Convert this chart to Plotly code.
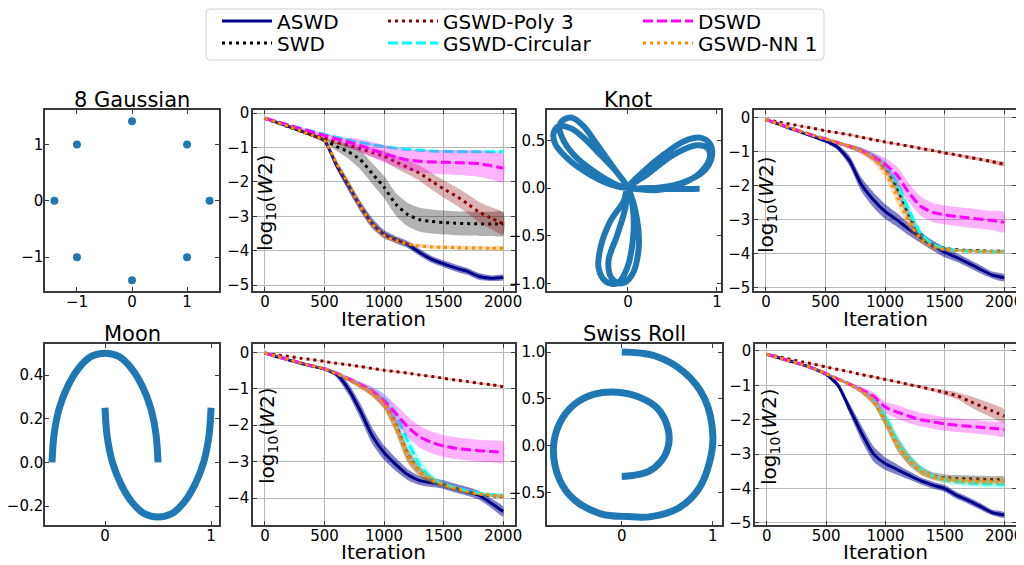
import plotly.graph_objects as go

# the page body has an 8px default margin; the figure is sized to fit the window
PAGE_W, PAGE_H = 1024, 565
OFF = 8
W, H = PAGE_W - OFF, PAGE_H - OFF
FONT = "DejaVu Sans"
BLUE = "#1f77b4"
SPINE = "#3a3a3a"
GRID = "#b8b8b8"

# ---------------- data ----------------
ITER = [0, 100, 200, 300, 400, 500, 600, 700, 800, 900, 1000,
        1100, 1200, 1300, 1400, 1500, 1600, 1700, 1800, 1900, 2000]

METHODS = ["ASWD", "SWD", "GSWD-Poly 3", "GSWD-Circular", "DSWD", "GSWD-NN 1"]

# 8 Gaussian samples
G8_X = [0.0, 1.0, 1.41, 1.0, 0.0, -1.0, -1.41, -1.0]
G8_Y = [1.41, 1.0, 0.0, -1.0, -1.41, -1.0, 0.0, 1.0]

# Knot curve (read along the drawn path)
KNOT_X = [0.805, 0.5, 0.25, 0.0,
          -0.16, -0.39, -0.61, -0.74, -0.77, -0.72, -0.63, -0.5, -0.35, -0.16, 0.0,
          0.1, 0.12, 0.045, -0.07, -0.18, -0.22, -0.12, -0.03, 0.0,
          0.176, 0.4, 0.625, 0.81, 0.925, 0.94, 0.85, 0.59, 0.29, 0.0,
          -0.2, -0.46, -0.69, -0.82, -0.835, -0.78, -0.65, -0.5, -0.31, -0.12, 0.0,
          0.055, 0.06, -0.01, -0.12, -0.25, -0.33, -0.31, -0.2, -0.05, 0.0,
          0.21, 0.51, 0.775, 0.895, 0.92, 0.81, 0.59, 0.33, 0.0]
KNOT_Y = [-0.007, -0.01, 0.0, 0.0,
          0.05, 0.18, 0.35, 0.53, 0.65, 0.72, 0.74, 0.65, 0.46, 0.21, 0.0,
          -0.32, -0.63, -0.91, -1.0, -0.95, -0.77, -0.49, -0.21, 0.0,
          0.175, 0.35, 0.49, 0.53, 0.46, 0.32, 0.175, 0.05, 0.0, 0.0,
          0.04, 0.16, 0.32, 0.47, 0.58, 0.65, 0.63, 0.53, 0.35, 0.16, 0.0,
          -0.21, -0.49, -0.84, -1.0, -0.98, -0.84, -0.63, -0.35, -0.14, 0.0,
          0.14, 0.35, 0.45, 0.42, 0.32, 0.16, 0.04, -0.02, 0.0]

# Moon curves
MOON_UP_X = [-0.5, -0.48, -0.43, -0.35, -0.25, -0.13, 0.0, 0.13, 0.25, 0.35, 0.43, 0.48, 0.5]
MOON_UP_Y = [0.0, 0.13, 0.25, 0.35, 0.43, 0.485, 0.5, 0.485, 0.43, 0.35, 0.25, 0.13, 0.0]
MOON_LO_X = [0.0, 0.02, 0.07, 0.15, 0.25, 0.37, 0.5, 0.63, 0.75, 0.85, 0.93, 0.98, 1.0]
MOON_LO_Y = [0.25, 0.12, 0.0, -0.1, -0.18, -0.235, -0.25, -0.235, -0.18, -0.1, 0.0, 0.12, 0.25]

# Swiss roll curve
SWISS_X = [0.0, 0.36, 0.69, 0.91, 1.0, 0.96, 0.84, 0.62, 0.32, 0.07, -0.23, -0.52, -0.68,
           -0.75, -0.68, -0.52, -0.3, -0.04, 0.21, 0.4, 0.51, 0.51, 0.43, 0.29, 0.12, 0.0]
SWISS_Y = [1.0, 0.96, 0.78, 0.5, 0.1, -0.19, -0.47, -0.67, -0.76, -0.76, -0.73, -0.58, -0.37,
           -0.04, 0.24, 0.44, 0.55, 0.57, 0.51, 0.39, 0.17, -0.01, -0.17, -0.28, -0.32, -0.33]

# ---- 8 Gaussian: log10(W2) mean and band half-width ----
G8_ASWD = [-0.15, -0.27, -0.39, -0.52, -0.65, -0.8, -1.5, -2.1, -2.7, -3.2, -3.52, -3.68, -3.82, -4.05, -4.25, -4.38, -4.5, -4.6, -4.75, -4.8, -4.78]
G8_ASWD_B = [0, 0.02, 0.03, 0.04, 0.05, 0.06, 0.12, 0.15, 0.15, 0.15, 0.12, 0.1, 0.1, 0.1, 0.1, 0.1, 0.1, 0.1, 0.1, 0.08, 0.08]
G8_SWD = [-0.15, -0.28, -0.4, -0.52, -0.65, -0.78, -0.97, -1.12, -1.35, -1.75, -2.15, -2.65, -2.95, -3.1, -3.15, -3.18, -3.2, -3.21, -3.22, -3.22, -3.22]
G8_SWD_B = [0, 0.01, 0.02, 0.03, 0.04, 0.05, 0.12, 0.2, 0.28, 0.3, 0.32, 0.33, 0.34, 0.35, 0.35, 0.35, 0.35, 0.35, 0.35, 0.35, 0.35]
G8_POLY = [-0.15, -0.25, -0.36, -0.48, -0.6, -0.72, -0.85, -0.93, -1.03, -1.15, -1.25, -1.42, -1.58, -1.75, -1.98, -2.2, -2.4, -2.63, -2.88, -3.05, -3.22]
G8_POLY_B = [0, 0.01, 0.02, 0.02, 0.03, 0.04, 0.05, 0.07, 0.1, 0.12, 0.15, 0.18, 0.2, 0.22, 0.24, 0.25, 0.26, 0.28, 0.3, 0.32, 0.33]
G8_CIRC = [-0.15, -0.25, -0.35, -0.44, -0.53, -0.62, -0.7, -0.78, -0.85, -0.92, -0.97, -1.02, -1.05, -1.08, -1.1, -1.11, -1.12, -1.12, -1.12, -1.12, -1.12]
G8_CIRC_B = [0, 0.01, 0.01, 0.02, 0.02, 0.02, 0.02, 0.03, 0.03, 0.03, 0.03, 0.03, 0.03, 0.03, 0.03, 0.03, 0.03, 0.03, 0.03, 0.03, 0.03]
G8_DSWD = [-0.15, -0.25, -0.35, -0.45, -0.55, -0.65, -0.75, -0.84, -0.94, -1.06, -1.18, -1.28, -1.36, -1.4, -1.42, -1.43, -1.44, -1.45, -1.47, -1.53, -1.6]
G8_DSWD_B = [0, 0.01, 0.02, 0.03, 0.04, 0.05, 0.08, 0.12, 0.18, 0.22, 0.25, 0.28, 0.3, 0.32, 0.34, 0.35, 0.36, 0.37, 0.38, 0.4, 0.42]
G8_NN = [-0.15, -0.27, -0.39, -0.52, -0.65, -0.8, -1.45, -2.05, -2.7, -3.22, -3.55, -3.7, -3.8, -3.86, -3.89, -3.9, -3.91, -3.92, -3.92, -3.93, -3.93]
G8_NN_B = [0, 0.01, 0.02, 0.03, 0.04, 0.05, 0.1, 0.12, 0.12, 0.1, 0.08, 0.07, 0.06, 0.06, 0.06, 0.06, 0.06, 0.06, 0.06, 0.06, 0.06]

# ---- Knot ----
KN_ASWD = [-0.05, -0.18, -0.31, -0.43, -0.55, -0.68, -0.86, -1.25, -1.95, -2.4, -2.75, -3.0, -3.27, -3.52, -3.75, -3.95, -4.1, -4.27, -4.45, -4.62, -4.7]
KN_ASWD_B = [0, 0.01, 0.02, 0.03, 0.04, 0.05, 0.08, 0.15, 0.2, 0.22, 0.22, 0.2, 0.18, 0.16, 0.15, 0.15, 0.13, 0.12, 0.12, 0.1, 0.1]
KN_SWD = [-0.05, -0.17, -0.29, -0.41, -0.52, -0.62, -0.73, -0.84, -0.96, -1.15, -1.45, -2.05, -2.85, -3.45, -3.74, -3.84, -3.88, -3.9, -3.91, -3.92, -3.92]
KN_SWD_B = [0, 0.01, 0.02, 0.02, 0.03, 0.04, 0.05, 0.06, 0.08, 0.1, 0.14, 0.18, 0.18, 0.12, 0.08, 0.05, 0.04, 0.04, 0.04, 0.04, 0.04]
KN_POLY = [-0.05, -0.12, -0.18, -0.25, -0.31, -0.38, -0.44, -0.5, -0.57, -0.64, -0.71, -0.77, -0.83, -0.9, -0.96, -1.03, -1.09, -1.16, -1.22, -1.29, -1.36]
KN_POLY_B = [0, 0.01, 0.01, 0.02, 0.02, 0.02, 0.02, 0.03, 0.03, 0.03, 0.03, 0.03, 0.03, 0.04, 0.04, 0.04, 0.04, 0.05, 0.05, 0.06, 0.06]
KN_CIRC = [-0.05, -0.17, -0.29, -0.41, -0.52, -0.62, -0.73, -0.84, -0.95, -1.12, -1.38, -1.9, -2.7, -3.4, -3.72, -3.85, -3.9, -3.92, -3.93, -3.94, -3.95]
KN_CIRC_B = [0, 0.01, 0.02, 0.02, 0.03, 0.04, 0.05, 0.06, 0.08, 0.1, 0.14, 0.18, 0.18, 0.12, 0.08, 0.05, 0.04, 0.04, 0.04, 0.04, 0.04]
KN_DSWD = [-0.05, -0.17, -0.29, -0.41, -0.52, -0.62, -0.73, -0.84, -0.96, -1.14, -1.36, -1.68, -2.2, -2.6, -2.78, -2.85, -2.9, -2.94, -2.98, -3.02, -3.07]
KN_DSWD_B = [0, 0.01, 0.02, 0.02, 0.03, 0.04, 0.05, 0.06, 0.08, 0.12, 0.18, 0.25, 0.28, 0.28, 0.28, 0.28, 0.28, 0.28, 0.28, 0.28, 0.3]
KN_NN = [-0.05, -0.17, -0.29, -0.41, -0.52, -0.62, -0.73, -0.84, -0.98, -1.2, -1.58, -2.3, -3.05, -3.55, -3.78, -3.87, -3.9, -3.92, -3.93, -3.94, -3.95]
KN_NN_B = [0, 0.01, 0.02, 0.02, 0.03, 0.04, 0.05, 0.06, 0.08, 0.12, 0.18, 0.22, 0.2, 0.12, 0.08, 0.05, 0.04, 0.04, 0.04, 0.04, 0.04]

# ---- Moon ----
MN_ASWD = [-0.02, -0.12, -0.21, -0.3, -0.38, -0.46, -0.6, -1.0, -1.6, -2.28, -2.75, -3.08, -3.36, -3.52, -3.58, -3.63, -3.73, -3.82, -3.93, -4.14, -4.37]
MN_ASWD_B = [0, 0.01, 0.02, 0.03, 0.03, 0.04, 0.08, 0.15, 0.2, 0.22, 0.2, 0.18, 0.15, 0.12, 0.12, 0.12, 0.12, 0.12, 0.12, 0.13, 0.14]
MN_SWD = [-0.02, -0.11, -0.2, -0.29, -0.37, -0.45, -0.58, -0.74, -0.91, -1.11, -1.4, -2.0, -2.82, -3.27, -3.5, -3.65, -3.75, -3.84, -3.9, -3.93, -3.96]
MN_SWD_B = [0, 0.01, 0.01, 0.02, 0.02, 0.03, 0.04, 0.05, 0.07, 0.1, 0.14, 0.2, 0.2, 0.14, 0.1, 0.07, 0.05, 0.04, 0.04, 0.04, 0.04]
MN_POLY = [-0.02, -0.07, -0.11, -0.16, -0.2, -0.25, -0.3, -0.34, -0.39, -0.44, -0.49, -0.53, -0.57, -0.62, -0.66, -0.71, -0.76, -0.8, -0.85, -0.89, -0.94]
MN_POLY_B = [0, 0.01, 0.01, 0.01, 0.01, 0.02, 0.02, 0.02, 0.02, 0.02, 0.02, 0.02, 0.02, 0.02, 0.02, 0.02, 0.02, 0.02, 0.02, 0.02, 0.02]
MN_CIRC = [-0.02, -0.11, -0.2, -0.29, -0.37, -0.45, -0.57, -0.72, -0.88, -1.05, -1.28, -1.72, -2.45, -3.1, -3.45, -3.62, -3.72, -3.81, -3.87, -3.91, -3.92]
MN_CIRC_B = [0, 0.01, 0.01, 0.02, 0.02, 0.03, 0.04, 0.05, 0.07, 0.1, 0.15, 0.2, 0.22, 0.18, 0.12, 0.08, 0.06, 0.05, 0.05, 0.05, 0.05]
MN_DSWD = [-0.02, -0.11, -0.2, -0.29, -0.37, -0.45, -0.57, -0.72, -0.88, -1.06, -1.33, -1.68, -2.05, -2.32, -2.47, -2.57, -2.63, -2.67, -2.7, -2.72, -2.74]
MN_DSWD_B = [0, 0.01, 0.01, 0.02, 0.02, 0.03, 0.04, 0.06, 0.08, 0.12, 0.18, 0.24, 0.28, 0.3, 0.3, 0.3, 0.3, 0.3, 0.3, 0.3, 0.3]
MN_NN = [-0.02, -0.11, -0.2, -0.29, -0.37, -0.45, -0.58, -0.74, -0.92, -1.12, -1.42, -2.05, -2.85, -3.28, -3.5, -3.64, -3.74, -3.83, -3.89, -3.92, -3.95]
MN_NN_B = [0, 0.01, 0.01, 0.02, 0.02, 0.03, 0.04, 0.05, 0.07, 0.1, 0.14, 0.2, 0.2, 0.14, 0.1, 0.07, 0.05, 0.04, 0.04, 0.04, 0.04]

# ---- Swiss Roll ----
SR_ASWD = [-0.1, -0.2, -0.3, -0.4, -0.52, -0.68, -1.0, -1.7, -2.4, -3.0, -3.28, -3.45, -3.62, -3.78, -3.9, -4.0, -4.2, -4.35, -4.52, -4.7, -4.77]
SR_ASWD_B = [0, 0.01, 0.02, 0.03, 0.04, 0.05, 0.08, 0.15, 0.22, 0.22, 0.18, 0.15, 0.12, 0.1, 0.1, 0.1, 0.1, 0.1, 0.1, 0.08, 0.08]
SR_SWD = [-0.1, -0.2, -0.3, -0.4, -0.52, -0.66, -0.82, -0.97, -1.17, -1.45, -2.02, -2.7, -3.17, -3.47, -3.63, -3.69, -3.71, -3.72, -3.73, -3.74, -3.75]
SR_SWD_B = [0, 0.01, 0.01, 0.02, 0.02, 0.03, 0.04, 0.05, 0.07, 0.12, 0.18, 0.2, 0.16, 0.12, 0.1, 0.1, 0.1, 0.1, 0.1, 0.1, 0.1]
SR_POLY = [-0.1, -0.17, -0.25, -0.32, -0.39, -0.47, -0.54, -0.61, -0.69, -0.76, -0.83, -0.9, -0.98, -1.05, -1.13, -1.21, -1.3, -1.45, -1.6, -1.74, -1.9]
SR_POLY_B = [0, 0.01, 0.01, 0.01, 0.02, 0.02, 0.02, 0.02, 0.02, 0.03, 0.03, 0.03, 0.03, 0.04, 0.05, 0.07, 0.1, 0.15, 0.18, 0.2, 0.2]
SR_CIRC = [-0.1, -0.2, -0.3, -0.4, -0.52, -0.66, -0.82, -0.97, -1.15, -1.4, -1.92, -2.62, -3.12, -3.45, -3.65, -3.75, -3.8, -3.84, -3.86, -3.87, -3.88]
SR_CIRC_B = [0, 0.01, 0.01, 0.02, 0.02, 0.03, 0.04, 0.05, 0.07, 0.12, 0.18, 0.2, 0.16, 0.12, 0.1, 0.1, 0.1, 0.1, 0.1, 0.1, 0.1]
SR_DSWD = [-0.1, -0.2, -0.3, -0.4, -0.52, -0.66, -0.82, -0.97, -1.13, -1.32, -1.64, -1.78, -1.9, -2.0, -2.06, -2.12, -2.16, -2.19, -2.22, -2.25, -2.29]
SR_DSWD_B = [0, 0.01, 0.01, 0.02, 0.02, 0.03, 0.04, 0.05, 0.08, 0.12, 0.16, 0.2, 0.2, 0.2, 0.2, 0.2, 0.2, 0.2, 0.2, 0.2, 0.2]
SR_NN = [-0.1, -0.2, -0.3, -0.4, -0.52, -0.66, -0.83, -0.98, -1.18, -1.47, -2.05, -2.72, -3.18, -3.5, -3.67, -3.73, -3.76, -3.78, -3.79, -3.8, -3.8]
SR_NN_B = [0, 0.01, 0.01, 0.02, 0.02, 0.03, 0.04, 0.05, 0.07, 0.12, 0.18, 0.2, 0.16, 0.12, 0.1, 0.1, 0.1, 0.1, 0.1, 0.1, 0.1]

ITER_TICKS = [0, 500, 1000, 1500, 2000]
PANEL_TITLES = ["8 Gaussian", "Knot", "Moon", "Swiss Roll"]

# ---------------- styles ----------------
STYLE = {
    "ASWD": dict(color="#00008B", dash="solid", rgba="rgba(0,0,139,0.5)", width=3),
    "SWD": dict(color="#000000", dash="3px,4px", rgba="rgba(0,0,0,0.3)", width=3),
    "GSWD-Poly 3": dict(color="#8B0000", dash="3px,4px", rgba="rgba(139,0,0,0.3)", width=3),
    "GSWD-Circular": dict(color="#00FFFF", dash="10px,4px", rgba="rgba(0,255,255,0.3)", width=3),
    "DSWD": dict(color="#FF00FF", dash="10px,4px", rgba="rgba(255,0,255,0.3)", width=3),
    "GSWD-NN 1": dict(color="#FF8C00", dash="3px,4px", rgba="rgba(255,140,0,0.3)", width=3),
}

LINE_PANELS = [
    (2, [G8_ASWD, G8_SWD, G8_POLY, G8_CIRC, G8_DSWD, G8_NN],
        [G8_ASWD_B, G8_SWD_B, G8_POLY_B, G8_CIRC_B, G8_DSWD_B, G8_NN_B]),
    (4, [KN_ASWD, KN_SWD, KN_POLY, KN_CIRC, KN_DSWD, KN_NN],
        [KN_ASWD_B, KN_SWD_B, KN_POLY_B, KN_CIRC_B, KN_DSWD_B, KN_NN_B]),
    (6, [MN_ASWD, MN_SWD, MN_POLY, MN_CIRC, MN_DSWD, MN_NN],
        [MN_ASWD_B, MN_SWD_B, MN_POLY_B, MN_CIRC_B, MN_DSWD_B, MN_NN_B]),
    (8, [SR_ASWD, SR_SWD, SR_POLY, SR_CIRC, SR_DSWD, SR_NN],
        [SR_ASWD_B, SR_SWD_B, SR_POLY_B, SR_CIRC_B, SR_DSWD_B, SR_NN_B]),
]

LEGEND_IDS = ["legend", "legend2", "legend3", "legend4", "legend5", "legend6"]

def ax_name(k, letter):
    return letter + ("" if k == 1 else str(k))

fig = go.Figure()

# ---------- scatter panels ----------
fig.add_trace(go.Scatter(x=G8_X, y=G8_Y, mode="markers", marker=dict(color=BLUE, size=8),
                         xaxis="x", yaxis="y", showlegend=False))
fig.add_trace(go.Scatter(x=KNOT_X, y=KNOT_Y, mode="lines", line=dict(color=BLUE, width=6, shape="spline", smoothing=1.0),
                         xaxis="x3", yaxis="y3", showlegend=False))
fig.add_trace(go.Scatter(x=MOON_UP_X, y=MOON_UP_Y, mode="lines", line=dict(color=BLUE, width=7, shape="spline"),
                         xaxis="x5", yaxis="y5", showlegend=False))
fig.add_trace(go.Scatter(x=MOON_LO_X, y=MOON_LO_Y, mode="lines", line=dict(color=BLUE, width=7, shape="spline"),
                         xaxis="x5", yaxis="y5", showlegend=False))
fig.add_trace(go.Scatter(x=SWISS_X, y=SWISS_Y, mode="lines", line=dict(color=BLUE, width=7, shape="spline"),
                         xaxis="x7", yaxis="y7", showlegend=False))

# ---------- line panels ----------
for (k, means, bands) in LINE_PANELS:
    xa, ya = ax_name(k, "x"), ax_name(k, "y")
    for mi, name in enumerate(METHODS):
        st = STYLE[name]
        m, b = means[mi], bands[mi]
        upper = [v + d for v, d in zip(m, b)]
        lower = [v - d for v, d in zip(m, b)]
        fig.add_trace(go.Scatter(
            x=ITER + ITER[::-1], y=upper + lower[::-1], mode="lines",
            line=dict(width=0, shape="spline", smoothing=0.6), fill="toself",
            fillcolor=st["rgba"], hoverinfo="skip", showlegend=False,
            xaxis=xa, yaxis=ya))
        fig.add_trace(go.Scatter(
            x=ITER, y=m, mode="lines", name=name,
            line=dict(color=st["color"], dash=st["dash"], width=st["width"], shape="spline", smoothing=0.6),
            showlegend=(k == 2), legend=LEGEND_IDS[mi],
            xaxis=xa, yaxis=ya))

# ---------- layout ----------
def px_x(v):
    return (v - OFF) / W

def px_y(v):
    return 1 - (v - OFF) / H

ROW1 = (110, 291)
ROW2 = (344, 525)
PANELS = {
    1: ((45, 219), ROW1, [-1.58, 1.58], [-1.6, 1.61], [-1, 0, 1], [-1, 0, 1], None),
    2: ((253, 515), ROW1, [-100, 2100], [-5.17, 0.09], ITER_TICKS, [-5, -4, -3, -2, -1, 0], None),
    3: ((547, 721), ROW1, [-0.91, 1.045], [-1.08, 0.82], [0, 1], [-1.0, -0.5, 0.0, 0.5], ".1f"),
    4: ((754, 1016), ROW1, [-100, 2100], [-5.09, 0.23], ITER_TICKS, [-5, -4, -3, -2, -1, 0], None),
    5: ((45, 219), ROW2, [-0.566, 1.075], [-0.287, 0.542], [0, 1], [-0.2, 0.0, 0.2, 0.4], ".1f"),
    6: ((253, 515), ROW2, [-100, 2100], [-4.74, 0.23], ITER_TICKS, [-4, -3, -2, -1, 0], None),
    7: ((547, 722), ROW2, [-0.82, 1.10], [-0.85, 1.086], [0, 1], [-0.5, 0.0, 0.5, 1.0], ".1f"),
    8: ((755, 1016), ROW2, [-100, 2100], [-5.06, 0.2], ITER_TICKS, [-5, -4, -3, -2, -1, 0], None),
}

tickfont = dict(family=FONT, size=15, color="black")
layout_axes = {}
for k, (xd, yd, xr, yr, xt, yt, yfmt) in PANELS.items():
    grid = k % 2 == 0
    common = dict(showline=True, linecolor=SPINE, linewidth=1.5, mirror="ticks",
                  ticks="inside", ticklen=4, tickwidth=1, tickcolor=SPINE,
                  tickfont=tickfont, zeroline=False, showgrid=grid,
                  gridcolor=GRID, gridwidth=1, automargin=False)
    xkey = "xaxis" + ("" if k == 1 else str(k))
    ykey = "yaxis" + ("" if k == 1 else str(k))
    layout_axes[xkey] = dict(common, domain=[px_x(xd[0]), px_x(xd[1])], range=xr,
                             tickmode="array", tickvals=xt, anchor=ax_name(k, "y"),
                             ticklabelstandoff=-4)
    yax = dict(common, domain=[px_y(yd[1]), px_y(yd[0])], range=yr,
               tickmode="array", tickvals=yt, anchor=ax_name(k, "x"),
               ticklabelstandoff=(-1 if grid else -3))
    if yfmt:
        yax["tickformat"] = yfmt
    layout_axes[ykey] = yax

annotations = []
title_pos = [(132, 100), (628, 100), (132, 334), (634, 334)]
for t, (x, y) in zip(PANEL_TITLES, title_pos):
    annotations.append(dict(text=t, x=px_x(x), y=px_y(y), xref="paper", yref="paper",
                            showarrow=False, font=dict(family=FONT, size=21, color="black"),
                            xanchor="center", yanchor="middle"))
for (x, y) in [(383, 319), (885, 319), (383, 552), (885, 552)]:
    annotations.append(dict(text="Iteration", x=px_x(x), y=px_y(y), xref="paper", yref="paper",
                            showarrow=False, font=dict(family=FONT, size=20, color="black"),
                            xanchor="center", yanchor="middle"))
for (x, y) in [(266, 203), (767, 205), (268, 436), (770, 437)]:
    annotations.append(dict(text="log<sub>10</sub>(<i>W</i>2)", x=px_x(x), y=px_y(y),
                            xref="paper", yref="paper", textangle=-90, showarrow=False,
                            font=dict(family=FONT, size=20, color="black"),
                            xanchor="center", yanchor="middle"))

# legends: 3 columns x 2 rows
ITEMW = 50
leg_text_x = [275, 441, 696]
leg_rows = [21, 43]
legend_layout = {}
for mi, lid in enumerate(LEGEND_IDS):
    col, row = mi // 2, mi % 2
    legend_layout[lid] = dict(x=px_x(leg_text_x[col] - ITEMW - 8), y=px_y(leg_rows[row]),
                              xanchor="left", yanchor="middle", bgcolor="rgba(0,0,0,0)",
                              borderwidth=0, font=dict(family=FONT, size=20, color="black"),
                              itemwidth=ITEMW)

# legend frame (rounded)
x0, x1, y0, y1 = 206, 824, 9, 60
r = 4
path = (f"M {px_x(x0 + r)},{px_y(y0)} L {px_x(x1 - r)},{px_y(y0)} "
        f"Q {px_x(x1)},{px_y(y0)} {px_x(x1)},{px_y(y0 + r)} "
        f"L {px_x(x1)},{px_y(y1 - r)} Q {px_x(x1)},{px_y(y1)} {px_x(x1 - r)},{px_y(y1)} "
        f"L {px_x(x0 + r)},{px_y(y1)} Q {px_x(x0)},{px_y(y1)} {px_x(x0)},{px_y(y1 - r)} "
        f"L {px_x(x0)},{px_y(y0 + r)} Q {px_x(x0)},{px_y(y0)} {px_x(x0 + r)},{px_y(y0)} Z")

fig.update_layout(
    width=W, height=H, margin=dict(l=0, r=0, t=0, b=0, autoexpand=False),
    paper_bgcolor="white", plot_bgcolor="white",
    font=dict(family=FONT, color="black"),
    annotations=annotations,
    shapes=[dict(type="path", path=path, xref="paper", yref="paper",
                 line=dict(color="#d0d0d0", width=1), fillcolor="rgba(255,255,255,0.8)", layer="below")],
    **layout_axes, **legend_layout,
)

fig.write_html("out.html")
